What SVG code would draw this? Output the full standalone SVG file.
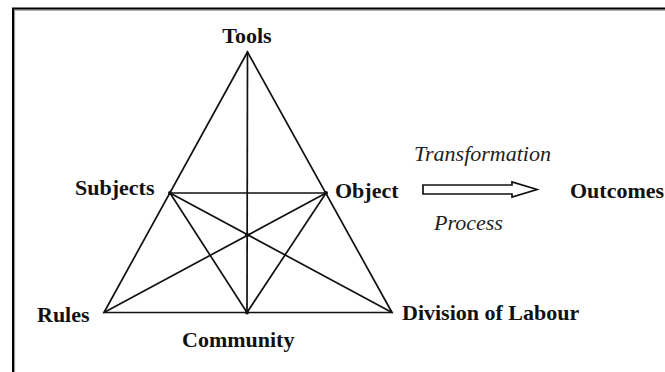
<svg xmlns="http://www.w3.org/2000/svg" width="665" height="372" viewBox="0 0 665 372">
<style>
.lbl{font-family:"Liberation Serif","Times New Roman",serif;font-weight:bold;font-size:22px;fill:#111}
.it{font-family:"Liberation Serif","Times New Roman",serif;font-style:italic;font-size:22px;fill:#222}
.ln{stroke:#111;stroke-width:1.7;fill:none;stroke-linecap:round;stroke-linejoin:miter}
.dot{fill:#111}
</style>
<rect width="665" height="372" fill="#fff"/>
<rect x="14.5" y="10.2" width="700" height="400" fill="none" stroke="#999" stroke-width="1.2"/>
<rect x="13" y="8.5" width="700" height="400" fill="none" stroke="#000" stroke-width="2"/>
<g id="connectors" class="ln">
<polygon points="247.5,52 104,312.5 392,312.5"/>
<line x1="247.5" y1="52" x2="247" y2="312.5"/>
<line x1="170" y1="193" x2="326" y2="193"/>
<line x1="170" y1="193" x2="247" y2="312.5"/>
<line x1="170" y1="193" x2="392" y2="312.5"/>
<line x1="326" y1="193" x2="104" y2="312.5"/>
<line x1="326" y1="193" x2="247" y2="312.5"/>
</g>
<g id="arrow">
<polygon points="423,185 512,185 512,182 537,189.5 512,197 512,194 423,194" fill="#fff" stroke="#111" stroke-width="1.7" stroke-linejoin="miter"/>
</g>
<g id="node-tools"><text class="lbl" x="247" y="43" text-anchor="middle">Tools</text></g>
<g id="node-subjects"><circle class="dot" cx="170" cy="193" r="2"/><text class="lbl" x="75" y="195">Subjects</text></g>
<g id="node-object"><circle class="dot" cx="326" cy="193" r="2"/><text class="lbl" x="335" y="198">Object</text></g>
<g id="node-center"><circle class="dot" cx="247" cy="235" r="2.2"/></g>
<g id="node-rules"><text class="lbl" x="37" y="321.5">Rules</text></g>
<g id="node-community"><circle class="dot" cx="247" cy="312.5" r="2"/><text class="lbl" x="182" y="347">Community</text></g>
<g id="node-division"><text class="lbl" x="402" y="320">Division of Labour</text></g>
<g id="node-outcomes"><text class="lbl" x="570" y="198">Outcomes</text></g>
<g id="labels">
<text class="it" x="414" y="161">Transformation</text>
<text class="it" x="434" y="230">Process</text>
</g>
</svg>
